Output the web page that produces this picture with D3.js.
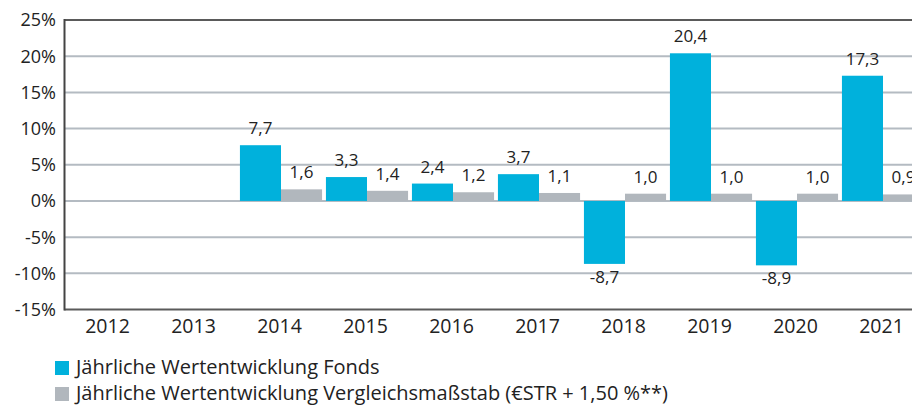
<!DOCTYPE html>
<html><head><meta charset="utf-8">
<script src="https://cdn.jsdelivr.net/npm/d3@7"></script>
<style>
html,body{margin:0;padding:0;background:#fff;}
svg{display:block;font-family:"Open Sans",sans-serif;}
</style></head>
<body><svg id="c" width="912" height="405"></svg>
<script>
const years = ["2012","2013","2014","2015","2016","2017","2018","2019","2020","2021"];
const fondsValues = [null,null,7.7,3.3,2.4,3.7,-8.7,20.4,-8.9,17.3];
const benchValues = [null,null,1.6,1.4,1.2,1.1,1.0,1.0,1.0,0.9];
const yTicks = [25,20,15,10,5,0,-5,-10,-15];
const seriesNames = ["Jährliche Wertentwicklung Fonds","Jährliche Wertentwicklung Vergleichsmaßstab (€STR + 1,50 %**)"];
const colors = ["#00b1dc","#b1b7bd"];

const svg = d3.select("#c");
const mLeft = 64.5, mTop = 20, mBottom = 309.5;
const x0 = d3.scaleBand().domain(years).range([mLeft, mLeft + 860]).paddingInner(0.045).paddingOuter(0.0225);
const x1 = d3.scaleBand().domain([0,1]).range([1.5, x0.bandwidth() + 1.5]);
const y = d3.scaleLinear().domain([-15,25]).range([mBottom, mTop]);
const fmt = v => v.toFixed(1).replace(".", ",");

// gridlines
svg.append("g").selectAll("line").data(yTicks.filter(t=>t!==25 && t!==-15)).join("line")
  .attr("x1", mLeft).attr("x2", 912).attr("y1", d=>y(d)).attr("y2", d=>y(d))
  .attr("stroke", "#b4bbc2").attr("stroke-width", 2);

// top & bottom lines
svg.append("line").attr("x1", mLeft).attr("x2", 912).attr("y1", y(25)).attr("y2", y(25)).attr("stroke","#5a5a5a").attr("stroke-width",2);
svg.append("line").attr("x1", mLeft).attr("x2", 912).attr("y1", y(-15)).attr("y2", y(-15)).attr("stroke","#5a5a5a").attr("stroke-width",2);

// bars
const data = years.map((yr,i)=>({yr, vals:[fondsValues[i], benchValues[i]]}));
const g = svg.append("g");
data.forEach(d=>{
  d.vals.forEach((v,k)=>{
    if (v===null) return;
    const bx = x0(d.yr) + x1(k);
    g.append("rect").attr("x", bx).attr("width", x1.bandwidth())
      .attr("y", y(Math.max(0,v))).attr("height", Math.abs(y(v)-y(0)))
      .attr("fill", colors[k]);
    g.append("text").attr("x", bx + x1.bandwidth()/2)
      .attr("y", v>=0 ? y(v)-11 : y(v)+19)
      .attr("text-anchor","middle").attr("font-size", 17).attr("fill","#222")
      .text(fmt(v));
  });
});

// left axis line
svg.append("line").attr("x1", mLeft).attr("x2", mLeft).attr("y1", y(25)-1).attr("y2", y(-15)+1).attr("stroke","#444").attr("stroke-width",2);

// y tick labels
svg.append("g").selectAll("text").data(yTicks).join("text")
  .attr("x", 56).attr("y", d=>y(d)).attr("dy","0.36em").attr("text-anchor","end")
  .attr("font-size", 18).attr("fill","#222").text(d=>d+"%");

// x tick labels
svg.append("g").selectAll("text").data(years).join("text")
  .attr("x", d=>x0(d)+x0.bandwidth()/2).attr("y", 333).attr("text-anchor","middle")
  .attr("font-size", 19.5).attr("fill","#222").text(d=>d);

// legend
const lg = svg.append("g");
seriesNames.forEach((n,i)=>{
  lg.append("rect").attr("x",55).attr("y",361 + i*26).attr("width",14).attr("height",14).attr("fill",colors[i]);
  lg.append("text").attr("x",76).attr("y",374 + i*26).attr("font-size",20).attr("fill","#222").text(n);
});
</script></body></html>
